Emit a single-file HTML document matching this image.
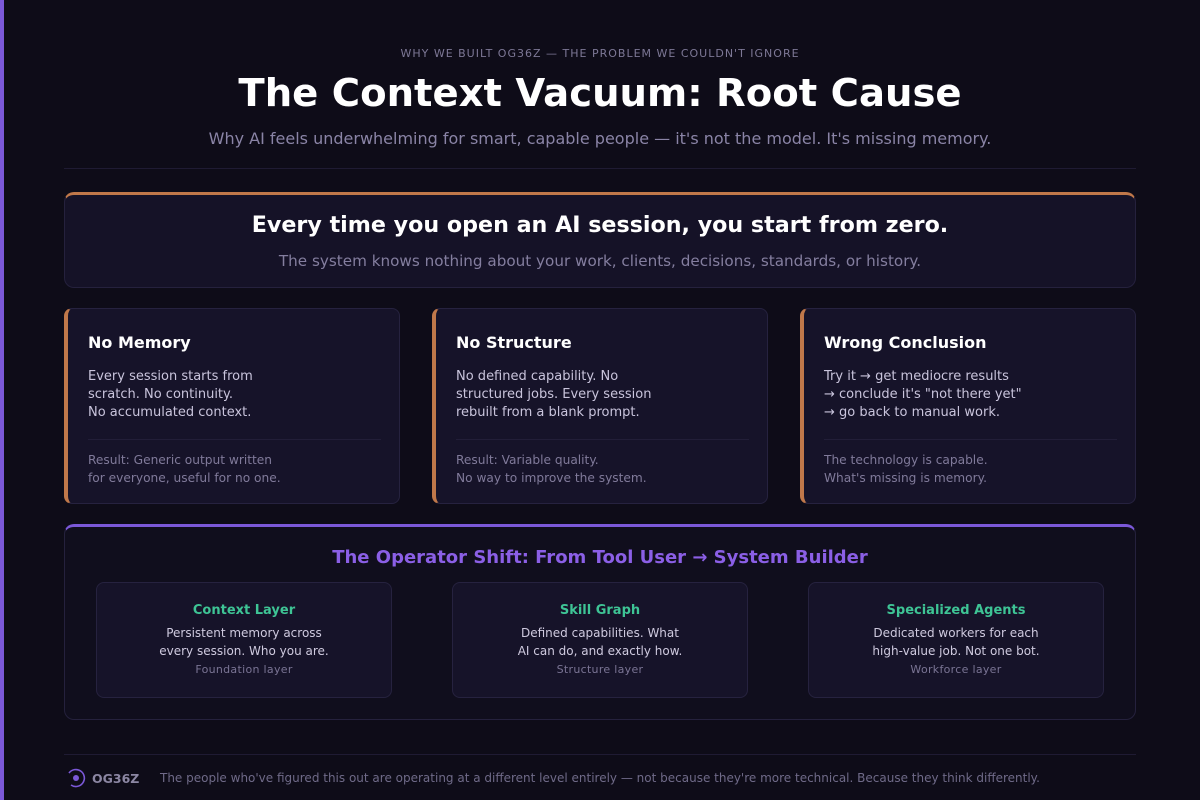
<!DOCTYPE html>
<html><head><meta charset="utf-8"><style>
*{margin:0;padding:0;box-sizing:border-box}
body{width:1200px;height:800px;background:#0e0c18;font-family:"DejaVu Sans","Liberation Sans",sans-serif;position:relative;overflow:hidden}
.abs{position:absolute}
.c{text-align:center;left:0;width:1200px;white-space:nowrap}
.box{position:absolute;background:#151227;border:1px solid #25213d;border-radius:10px}
.card{position:absolute;top:308px;width:336px;height:196px;background:#161329;border:1px solid #26223f;border-left:4px solid #c0784a;border-radius:8px}
.card h3{position:absolute;left:20px;top:24px;font-size:16px;color:#fff;font-weight:bold}
.card .b{position:absolute;left:20px;top:59px;font-size:13px;line-height:18px;color:#c9c4dc}
.card .hr{position:absolute;left:20px;right:18px;top:130px;height:1px;background:#221e38}
.card .r{position:absolute;left:20px;top:142px;font-size:12.2px;line-height:18px;color:#807a9a}
.sub{position:absolute;top:582px;width:296px;height:116px;background:#161329;border:1px solid #26223f;border-radius:8px;text-align:center}
.sub h4{margin-top:20px;font-size:13px;color:#3ec495;font-weight:bold}
.sub p{margin-top:6px;font-size:12px;line-height:18px;color:#cfcadf}
.sub small{display:block;margin-top:3px;font-size:11px;color:#7a7494;letter-spacing:.3px}
</style></head><body>
<div class="abs" style="left:0;top:0;width:4px;height:800px;background:#7b58d8"></div>
<div class="abs c" style="top:47px;font-size:11px;letter-spacing:1px;color:#7d7896">WHY WE BUILT OG36Z — THE PROBLEM WE COULDN'T IGNORE</div>
<div class="abs c" style="top:71px;font-size:38.6px;font-weight:bold;color:#fff">The Context Vacuum: Root Cause</div>
<div class="abs c" style="top:129px;font-size:16px;color:#8a84a6">Why AI feels underwhelming for smart, capable people — it's not the model. It's missing memory.</div>
<div class="abs" style="left:64px;top:168px;width:1072px;height:1px;background:#1f1b33"></div>

<div class="box" style="left:64px;top:192px;width:1072px;height:96px;border-top:3px solid #c0784a"></div>
<div class="abs c" style="top:212px;font-size:22.2px;font-weight:bold;color:#fff">Every time you open an AI session, you start from zero.</div>
<div class="abs c" style="top:252px;font-size:15.2px;color:#847e9f">The system knows nothing about your work, clients, decisions, standards, or history.</div>

<div class="card" style="left:64px"><h3>No Memory</h3><div class="b">Every session starts from<br>scratch. No continuity.<br>No accumulated context.</div><div class="hr"></div><div class="r">Result: Generic output written<br>for everyone, useful for no one.</div></div>
<div class="card" style="left:432px"><h3>No Structure</h3><div class="b">No defined capability. No<br>structured jobs. Every session<br>rebuilt from a blank prompt.</div><div class="hr"></div><div class="r">Result: Variable quality.<br>No way to improve the system.</div></div>
<div class="card" style="left:800px"><h3>Wrong Conclusion</h3><div class="b">Try it → get mediocre results<br>→ conclude it's "not there yet"<br>→ go back to manual work.</div><div class="hr"></div><div class="r">The technology is capable.<br>What's missing is memory.</div></div>

<div class="box" style="left:64px;top:524px;width:1072px;height:196px;background:#100e1d;border-top:3px solid #7b58d8"></div>
<div class="abs c" style="top:547px;font-size:18px;font-weight:bold;color:#8b5fe6">The Operator Shift: From Tool User → System Builder</div>
<div class="sub" style="left:96px"><h4>Context Layer</h4><p>Persistent memory across<br>every session. Who you are.</p><small>Foundation layer</small></div>
<div class="sub" style="left:452px"><h4>Skill Graph</h4><p>Defined capabilities. What<br>AI can do, and exactly how.</p><small>Structure layer</small></div>
<div class="sub" style="left:808px"><h4>Specialized Agents</h4><p>Dedicated workers for each<br>high-value job. Not one bot.</p><small>Workforce layer</small></div>

<div class="abs" style="left:64px;top:754px;width:1072px;height:1px;background:#1f1b33"></div>
<svg class="abs" style="left:65px;top:767px" width="22" height="22" viewBox="0 0 22 22"><path d="M4 6 A8.5 8.5 0 1 1 6 18" fill="none" stroke="#7b58d8" stroke-width="1.6"/><circle cx="11" cy="11" r="3" fill="#7b58d8"/></svg>
<div class="abs" style="left:92px;top:771px;font-size:12.5px;font-weight:bold;color:#8c87a3">OG36Z</div>
<div class="abs" style="left:160px;top:771px;font-size:12px;color:#6f6a88;white-space:nowrap">The people who've figured this out are operating at a different level entirely — not because they're more technical. Because they think differently.</div>
</body></html>
